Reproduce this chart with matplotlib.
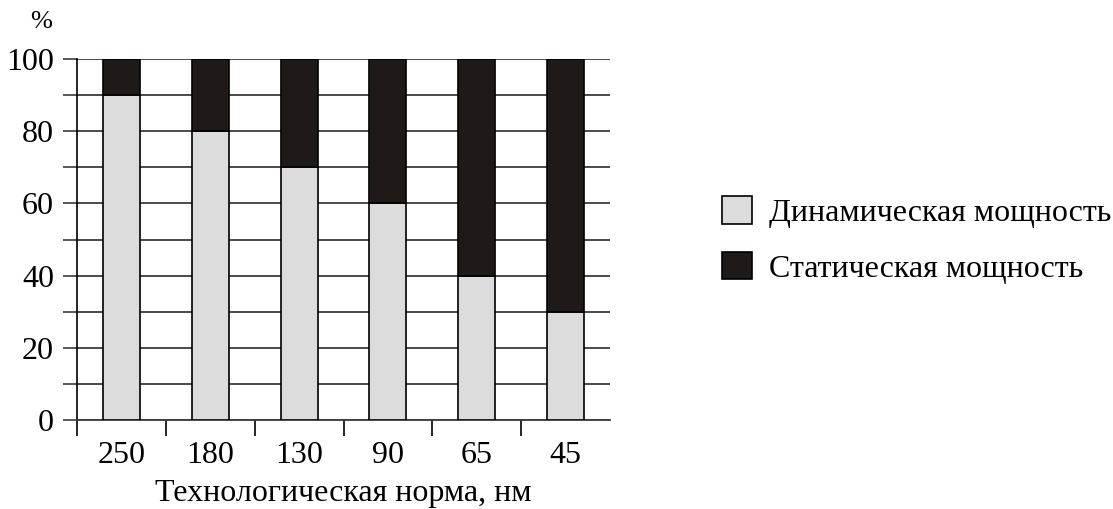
import matplotlib
matplotlib.use("Agg")
import matplotlib.pyplot as plt
import numpy as np
from matplotlib.ticker import FixedLocator, NullFormatter, FixedFormatter

# ---- data ----
categories = ["250", "180", "130", "90", "65", "45"]
dynamic_power = [90, 80, 70, 60, 40, 30]
static_power = [10, 20, 30, 40, 60, 70]
y_ticks = [0, 20, 40, 60, 80, 100]
y_minor = [10, 30, 50, 70, 90]
series_labels = ["Динамическая мощность", "Статическая мощность"]
x_label = "Технологическая норма, нм"
y_unit = "%"

plt.rcParams['font.family'] = ['Liberation Serif', 'DejaVu Serif']
FS = 23
PX = 72 / 100.0  # points per pixel at dpi 100

fig = plt.figure(figsize=(11.13, 5.09), dpi=100)
W, H = 1113, 509
ax = fig.add_axes([77 / W, 1 - 420 / H, (610 - 77) / W, (420 - 59) / H])

x = np.arange(len(categories))
bw = 37 / 89.0
light = "#dcdcdc"
dark = "#1f1a17"
b1 = ax.bar(x, dynamic_power, width=bw, color=light, edgecolor="black", linewidth=1.2,
            label=series_labels[0], zorder=3)
b2 = ax.bar(x, static_power, width=bw, bottom=dynamic_power, color=dark, edgecolor="black",
            linewidth=1.2, label=series_labels[1], zorder=3)

ax.set_xlim(-0.5, len(categories) - 0.5)
ax.set_ylim(0, 100)

# y axis: gridlines at every 10, ticks extend left
ax.yaxis.set_major_locator(FixedLocator(y_ticks))
ax.yaxis.set_minor_locator(FixedLocator(y_minor))
ax.set_yticklabels([str(v) for v in y_ticks], fontsize=FS)
ax.tick_params(axis='y', which='both', direction='out', length=14 * PX, width=1.2,
               color="#3c3c3c", pad=9 * PX)
ax.yaxis.grid(True, which='both', color="#3c3c3c", linewidth=1.3, zorder=1)
ax.set_axisbelow(True)

# x axis: major ticks at category boundaries, labels at centers
bounds = list(np.arange(-0.5, len(categories) - 1, 1.0))
ax.xaxis.set_major_locator(FixedLocator(bounds))
ax.xaxis.set_major_formatter(NullFormatter())
ax.xaxis.set_minor_locator(FixedLocator(list(x)))
ax.xaxis.set_minor_formatter(FixedFormatter(categories))
ax.tick_params(axis='x', which='major', direction='out', length=16 * PX, width=1.2, color="black")
ax.tick_params(axis='x', which='minor', length=0, pad=21 * PX, labelsize=FS)

for s in ['top', 'right']:
    ax.spines[s].set_visible(False)
ax.spines['left'].set_linewidth(1.2)
ax.spines['bottom'].set_linewidth(1.3)
ax.spines['bottom'].set_color("#3c3c3c")

ax.set_xlabel(x_label, fontsize=FS)
ax.xaxis.set_label_coords(0.5, -0.163)

fig.text(52 / W, 1 - 22 / H, y_unit, fontsize=19, ha='right', va='center')

leg = ax.legend(handles=[b1, b2], labels=series_labels, loc='center left',
                bbox_to_anchor=((722 - 77) / 533, 1 - (240 - 59) / 361),
                frameon=False, fontsize=FS, handlelength=0.93, handleheight=0.93,
                handletextpad=0.55, labelspacing=0.75, borderpad=0, borderaxespad=0)

fig.savefig("out.png", dpi=100)
